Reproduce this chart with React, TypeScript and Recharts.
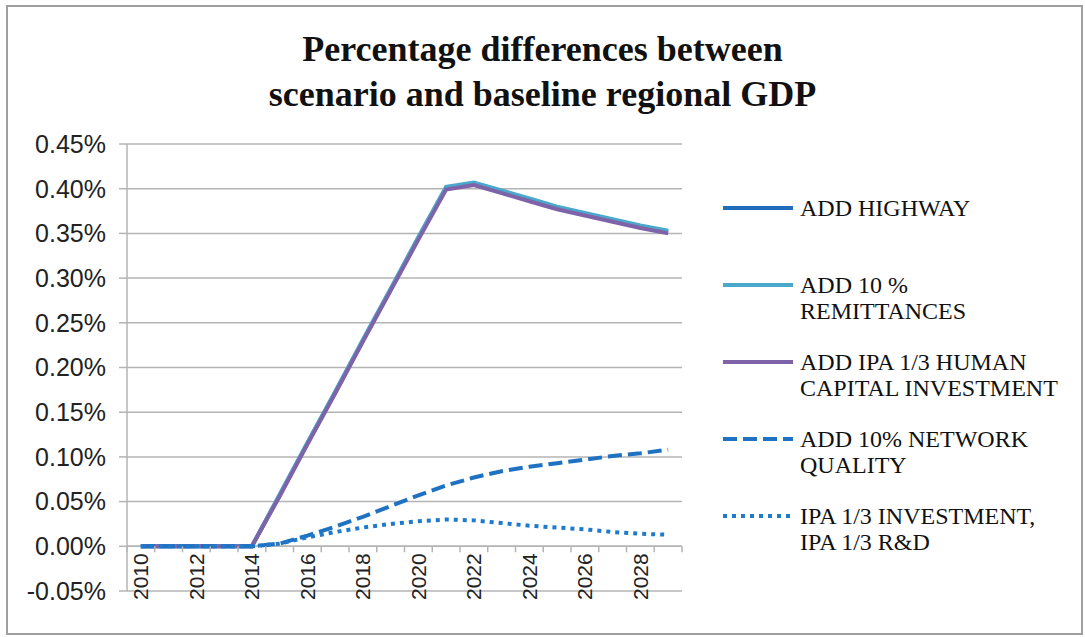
import { LineChart, Line, XAxis, YAxis, CartesianGrid, ReferenceLine } from "recharts";

const years = [2010, 2011, 2012, 2013, 2014, 2015, 2016, 2017, 2018, 2019, 2020, 2021, 2022, 2023, 2024, 2025, 2026, 2027, 2028, 2029];

// values in percent
const highway = [0, 0, 0, 0, 0, 0.057, 0.115, 0.172, 0.23, 0.287, 0.345, 0.401, 0.406, 0.397, 0.388, 0.379, 0.372, 0.365, 0.358, 0.352];
const remittances = [0, 0, 0, 0, 0, 0.058, 0.116, 0.173, 0.231, 0.288, 0.346, 0.402, 0.407, 0.398, 0.389, 0.38, 0.373, 0.366, 0.359, 0.353];
const humanCapital = [0, 0, 0, 0, 0, 0.056, 0.114, 0.171, 0.229, 0.286, 0.343, 0.399, 0.404, 0.395, 0.386, 0.377, 0.37, 0.363, 0.356, 0.35];
const networkQuality = [0, 0, 0, 0, 0, 0.003, 0.012, 0.022, 0.033, 0.045, 0.057, 0.068, 0.077, 0.084, 0.089, 0.093, 0.097, 0.101, 0.104, 0.108];
const investmentRD = [0, 0, 0, 0, 0, 0.003, 0.01, 0.016, 0.021, 0.025, 0.028, 0.03, 0.029, 0.026, 0.023, 0.021, 0.019, 0.016, 0.014, 0.013];

const yTicks = [-0.05, 0, 0.05, 0.1, 0.15, 0.2, 0.25, 0.3, 0.35, 0.4, 0.45];

const series = [
  { key: "highway", name: "ADD HIGHWAY", color: "#1f6cbc", dash: undefined },
  { key: "remittances", name: "ADD 10 %\nREMITTANCES", color: "#4aa9cb", dash: undefined },
  { key: "humanCapital", name: "ADD IPA 1/3 HUMAN\nCAPITAL INVESTMENT", color: "#7f63a9", dash: undefined },
  { key: "networkQuality", name: "ADD 10% NETWORK\nQUALITY", color: "#1f72c2", dash: "14 6" },
  { key: "investmentRD", name: "IPA 1/3 INVESTMENT,\nIPA 1/3 R&D", color: "#1f7acb", dash: "4 5" },
];

const data = years.map((year, i) => ({
  year,
  highway: highway[i],
  remittances: remittances[i],
  humanCapital: humanCapital[i],
  networkQuality: networkQuality[i],
  investmentRD: investmentRD[i],
}));

const W = 1085;
const H = 637;
const PLOT_LEFT = 127;
const PLOT_RIGHT = 682;
const PLOT_TOP = 144;
const PLOT_BOTTOM = 591;
const Y_W = 100;
const X_H = 30;
const Y_MIN = -0.05;
const Y_MAX = 0.45;
const GRID = "#b4b4b4";

const BAND = (PLOT_RIGHT - PLOT_LEFT) / years.length;
const ZERO_Y = PLOT_TOP + ((PLOT_BOTTOM - PLOT_TOP) * Y_MAX) / (Y_MAX - Y_MIN);

const YearTick = (props: any) => {
  const { x, payload, index } = props;
  const year = payload.value;
  return (
    <g>
      {index === 0 && (
        <line x1={x - BAND / 2} x2={x - BAND / 2} y1={ZERO_Y} y2={ZERO_Y + 6} stroke={GRID} strokeWidth={1.5} />
      )}
      <line x1={x + BAND / 2} x2={x + BAND / 2} y1={ZERO_Y} y2={ZERO_Y + 6} stroke={GRID} strokeWidth={1.5} />
      {year % 2 === 0 && (
        <text
          x={x}
          y={ZERO_Y + 7}
          dy="0.355em"
          textAnchor="end"
          transform={`rotate(-90, ${x}, ${ZERO_Y + 7})`}
          fontFamily="Liberation Sans, Arial, sans-serif"
          fontSize={21}
          fill="#222"
        >
          {year}
        </text>
      )}
    </g>
  );
};

const ChartLegend = () => (
  <div
    style={{
      position: "absolute",
      left: 723,
      top: 195,
      width: 360,
      fontFamily: "Liberation Serif, Times New Roman, serif",
      fontSize: 24,
      color: "#111",
    }}
  >
    {series.map((s) => (
      <div key={s.key} style={{ display: "flex", alignItems: "flex-start", height: 77 }}>
        <svg width={77} height={26} style={{ flex: "none" }}>
          <line x1={0} x2={70} y1={13} y2={13} stroke={s.color} strokeWidth={4} strokeDasharray={s.dash} />
        </svg>
        <div style={{ whiteSpace: "pre-line", lineHeight: "26px" }}>{s.name}</div>
      </div>
    ))}
  </div>
);

export default function App() {
  return (
    <div style={{ position: "absolute", left: 0, top: 0, width: W, height: H, background: "#fff" }}>
      <div
        style={{
          position: "absolute",
          left: 6,
          top: 5,
          width: 1083 - 6,
          height: 635 - 5,
          border: "2px solid #a0a0a0",
          boxSizing: "border-box",
        }}
      />
      <div
        style={{
          position: "absolute",
          left: 0,
          top: 27,
          width: W,
          textAlign: "center",
          fontFamily: "Liberation Serif, Times New Roman, serif",
          fontWeight: "bold",
          fontSize: 36,
          lineHeight: "45px",
          color: "#111",
        }}
      >
        Percentage differences between
        <br />
        scenario and baseline regional GDP
      </div>
      <LineChart
        width={W}
        height={H}
        data={data}
        margin={{ top: PLOT_TOP, right: W - PLOT_RIGHT, left: PLOT_LEFT - Y_W, bottom: H - PLOT_BOTTOM - X_H }}
        style={{ position: "absolute", left: 0, top: 0 }}
      >
        <CartesianGrid horizontal vertical={false} stroke={GRID} strokeWidth={1.5} />
        <XAxis
          dataKey="year"
          interval={0}
          height={X_H}
          padding={{ left: BAND / 2, right: BAND / 2 }}
          axisLine={false}
          tickLine={false}
          tick={<YearTick />}
        />
        <YAxis
          width={Y_W}
          domain={[Y_MIN, Y_MAX]}
          ticks={yTicks}
          tickFormatter={(v: number) => `${v.toFixed(2)}%`}
          axisLine={{ stroke: GRID, strokeWidth: 1.5 }}
          tickLine={{ stroke: GRID, strokeWidth: 1.5 }}
          tickSize={8}
          tickMargin={13}
          tick={{ fontFamily: "Liberation Sans, Arial, sans-serif", fontSize: 25, fill: "#222" }}
        />
        <ReferenceLine y={0} stroke={GRID} strokeWidth={1.5} />
        {series.map((s) => (
          <Line
            key={s.key}
            dataKey={s.key}
            name={s.name}
            type="linear"
            stroke={s.color}
            strokeWidth={4}
            strokeDasharray={s.dash}
            dot={false}
            activeDot={false}
            isAnimationActive={false}
          />
        ))}
      </LineChart>
      <ChartLegend />
    </div>
  );
}
